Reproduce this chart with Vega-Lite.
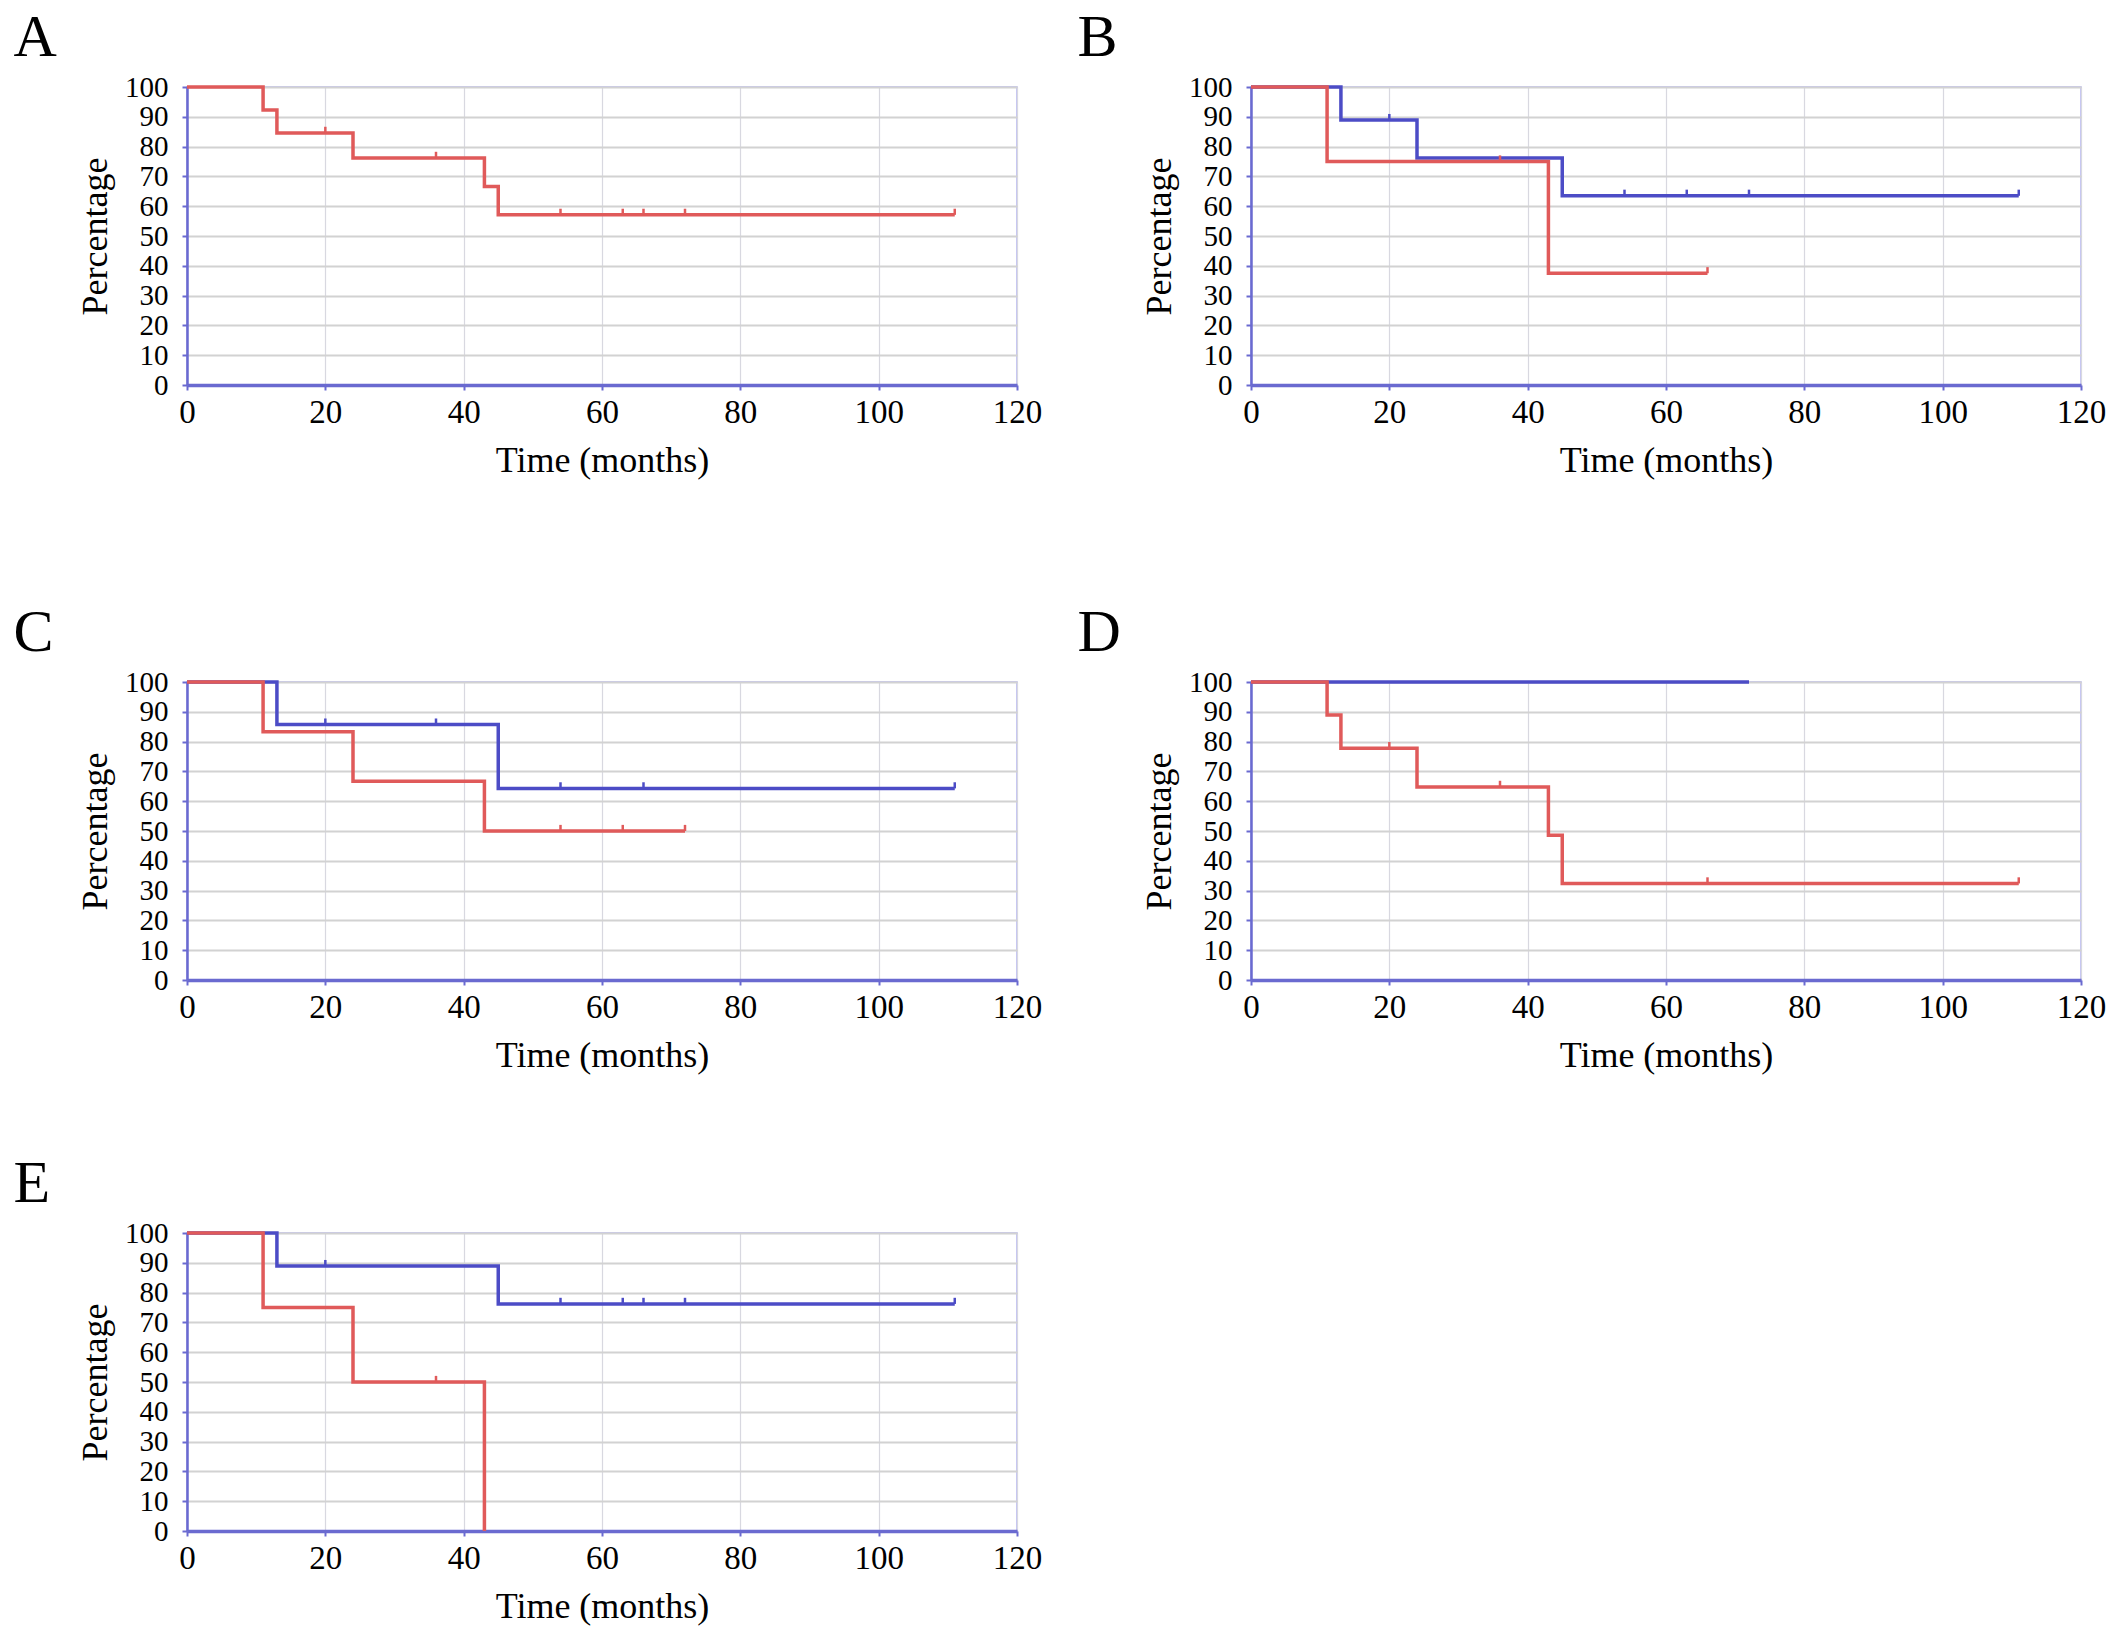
{
  "$schema": "https://vega.github.io/schema/vega-lite/v6.json",
  "background": "white",
  "padding": {"left": 12, "top": 7, "right": 5, "bottom": 5},
  "datasets": {
    "curves": [
      {"panel": "A", "group": "Group 2", "t": 0, "s": 100},
      {"panel": "A", "group": "Group 2", "t": 11, "s": 92.3},
      {"panel": "A", "group": "Group 2", "t": 13, "s": 84.6},
      {"panel": "A", "group": "Group 2", "t": 24, "s": 76.2},
      {"panel": "A", "group": "Group 2", "t": 43, "s": 66.6},
      {"panel": "A", "group": "Group 2", "t": 45, "s": 57.1},
      {"panel": "A", "group": "Group 2", "t": 111, "s": 57.1},
      {"panel": "B", "group": "Group 1", "t": 0, "s": 100},
      {"panel": "B", "group": "Group 1", "t": 13, "s": 88.9},
      {"panel": "B", "group": "Group 1", "t": 24, "s": 76.2},
      {"panel": "B", "group": "Group 1", "t": 45, "s": 63.5},
      {"panel": "B", "group": "Group 1", "t": 111, "s": 63.5},
      {"panel": "B", "group": "Group 2", "t": 0, "s": 100},
      {"panel": "B", "group": "Group 2", "t": 11, "s": 75},
      {"panel": "B", "group": "Group 2", "t": 43, "s": 37.5},
      {"panel": "B", "group": "Group 2", "t": 66, "s": 37.5},
      {"panel": "C", "group": "Group 1", "t": 0, "s": 100},
      {"panel": "C", "group": "Group 1", "t": 13, "s": 85.7},
      {"panel": "C", "group": "Group 1", "t": 45, "s": 64.3},
      {"panel": "C", "group": "Group 1", "t": 111, "s": 64.3},
      {"panel": "C", "group": "Group 2", "t": 0, "s": 100},
      {"panel": "C", "group": "Group 2", "t": 11, "s": 83.3},
      {"panel": "C", "group": "Group 2", "t": 24, "s": 66.7},
      {"panel": "C", "group": "Group 2", "t": 43, "s": 50},
      {"panel": "C", "group": "Group 2", "t": 72, "s": 50},
      {"panel": "D", "group": "Group 1", "t": 0, "s": 100},
      {"panel": "D", "group": "Group 1", "t": 72, "s": 100},
      {"panel": "D", "group": "Group 2", "t": 0, "s": 100},
      {"panel": "D", "group": "Group 2", "t": 11, "s": 88.9},
      {"panel": "D", "group": "Group 2", "t": 13, "s": 77.8},
      {"panel": "D", "group": "Group 2", "t": 24, "s": 64.8},
      {"panel": "D", "group": "Group 2", "t": 43, "s": 48.6},
      {"panel": "D", "group": "Group 2", "t": 45, "s": 32.4},
      {"panel": "D", "group": "Group 2", "t": 111, "s": 32.4},
      {"panel": "E", "group": "Group 1", "t": 0, "s": 100},
      {"panel": "E", "group": "Group 1", "t": 13, "s": 88.9},
      {"panel": "E", "group": "Group 1", "t": 45, "s": 76.2},
      {"panel": "E", "group": "Group 1", "t": 111, "s": 76.2},
      {"panel": "E", "group": "Group 2", "t": 0, "s": 100},
      {"panel": "E", "group": "Group 2", "t": 11, "s": 75},
      {"panel": "E", "group": "Group 2", "t": 24, "s": 50},
      {"panel": "E", "group": "Group 2", "t": 43, "s": 0}
    ],
    "censors": [
      {"panel": "A", "group": "Group 2", "t": 20, "s": 84.6},
      {"panel": "A", "group": "Group 2", "t": 36, "s": 76.2},
      {"panel": "A", "group": "Group 2", "t": 54, "s": 57.1},
      {"panel": "A", "group": "Group 2", "t": 63, "s": 57.1},
      {"panel": "A", "group": "Group 2", "t": 66, "s": 57.1},
      {"panel": "A", "group": "Group 2", "t": 72, "s": 57.1},
      {"panel": "A", "group": "Group 2", "t": 111, "s": 57.1},
      {"panel": "B", "group": "Group 1", "t": 20, "s": 88.9},
      {"panel": "B", "group": "Group 1", "t": 54, "s": 63.5},
      {"panel": "B", "group": "Group 1", "t": 63, "s": 63.5},
      {"panel": "B", "group": "Group 1", "t": 72, "s": 63.5},
      {"panel": "B", "group": "Group 1", "t": 111, "s": 63.5},
      {"panel": "B", "group": "Group 2", "t": 36, "s": 75},
      {"panel": "B", "group": "Group 2", "t": 66, "s": 37.5},
      {"panel": "C", "group": "Group 1", "t": 20, "s": 85.7},
      {"panel": "C", "group": "Group 1", "t": 36, "s": 85.7},
      {"panel": "C", "group": "Group 1", "t": 54, "s": 64.3},
      {"panel": "C", "group": "Group 1", "t": 66, "s": 64.3},
      {"panel": "C", "group": "Group 1", "t": 111, "s": 64.3},
      {"panel": "C", "group": "Group 2", "t": 54, "s": 50},
      {"panel": "C", "group": "Group 2", "t": 63, "s": 50},
      {"panel": "C", "group": "Group 2", "t": 72, "s": 50},
      {"panel": "D", "group": "Group 2", "t": 20, "s": 77.8},
      {"panel": "D", "group": "Group 2", "t": 36, "s": 64.8},
      {"panel": "D", "group": "Group 2", "t": 66, "s": 32.4},
      {"panel": "D", "group": "Group 2", "t": 111, "s": 32.4},
      {"panel": "E", "group": "Group 1", "t": 20, "s": 88.9},
      {"panel": "E", "group": "Group 1", "t": 54, "s": 76.2},
      {"panel": "E", "group": "Group 1", "t": 63, "s": 76.2},
      {"panel": "E", "group": "Group 1", "t": 66, "s": 76.2},
      {"panel": "E", "group": "Group 1", "t": 72, "s": 76.2},
      {"panel": "E", "group": "Group 1", "t": 111, "s": 76.2},
      {"panel": "E", "group": "Group 2", "t": 36, "s": 50}
    ]
  },
  "vconcat": [
    {
      "hconcat": [
        {
          "width": 830, "height": 298,
          "title": {"text": "A"},
          "encoding": {
            "x": {"field": "t", "type": "quantitative", "scale": {"domain": [0, 120], "nice": false}, "axis": {"values": [0, 20, 40, 60, 80, 100, 120]}, "title": "Time (months)"},
            "y": {"field": "s", "type": "quantitative", "scale": {"domain": [0, 100], "nice": false}, "axis": {"values": [0, 10, 20, 30, 40, 50, 60, 70, 80, 90, 100]}, "title": "Percentage"},
            "color": {"field": "group", "type": "nominal", "scale": {"domain": ["Group 1", "Group 2"], "range": ["#4c4cc6", "#e05a5a"]}, "legend": null}
          },
          "layer": [
            {"data": {"name": "curves"}, "transform": [{"filter": "datum.panel === 'A'"}],
             "mark": {"type": "line", "interpolate": "step-after", "strokeWidth": 3.5}},
            {"data": {"name": "censors"}, "transform": [{"filter": "datum.panel === 'A'"}],
             "mark": {"type": "point", "shape": "M0,0L0,-1", "size": 150, "filled": false, "strokeWidth": 2.5, "opacity": 1}}
          ]
        },
        {
          "width": 830, "height": 298,
          "title": {"text": "B"},
          "encoding": {
            "x": {"field": "t", "type": "quantitative", "scale": {"domain": [0, 120], "nice": false}, "axis": {"values": [0, 20, 40, 60, 80, 100, 120]}, "title": "Time (months)"},
            "y": {"field": "s", "type": "quantitative", "scale": {"domain": [0, 100], "nice": false}, "axis": {"values": [0, 10, 20, 30, 40, 50, 60, 70, 80, 90, 100]}, "title": "Percentage"},
            "color": {"field": "group", "type": "nominal", "scale": {"domain": ["Group 1", "Group 2"], "range": ["#4c4cc6", "#e05a5a"]}, "legend": null}
          },
          "layer": [
            {"data": {"name": "curves"}, "transform": [{"filter": "datum.panel === 'B'"}],
             "mark": {"type": "line", "interpolate": "step-after", "strokeWidth": 3.5}},
            {"data": {"name": "censors"}, "transform": [{"filter": "datum.panel === 'B'"}],
             "mark": {"type": "point", "shape": "M0,0L0,-1", "size": 150, "filled": false, "strokeWidth": 2.5, "opacity": 1}}
          ]
        }
      ]
    },
    {
      "spacing": 79,
      "vconcat": [
        {
          "hconcat": [
            {
              "width": 830, "height": 298,
              "title": {"text": "C"},
              "encoding": {
                "x": {"field": "t", "type": "quantitative", "scale": {"domain": [0, 120], "nice": false}, "axis": {"values": [0, 20, 40, 60, 80, 100, 120]}, "title": "Time (months)"},
                "y": {"field": "s", "type": "quantitative", "scale": {"domain": [0, 100], "nice": false}, "axis": {"values": [0, 10, 20, 30, 40, 50, 60, 70, 80, 90, 100]}, "title": "Percentage"},
                "color": {"field": "group", "type": "nominal", "scale": {"domain": ["Group 1", "Group 2"], "range": ["#4c4cc6", "#e05a5a"]}, "legend": null}
              },
              "layer": [
                {"data": {"name": "curves"}, "transform": [{"filter": "datum.panel === 'C'"}],
                 "mark": {"type": "line", "interpolate": "step-after", "strokeWidth": 3.5}},
                {"data": {"name": "censors"}, "transform": [{"filter": "datum.panel === 'C'"}],
                 "mark": {"type": "point", "shape": "M0,0L0,-1", "size": 150, "filled": false, "strokeWidth": 2.5, "opacity": 1}}
              ]
            },
            {
              "width": 830, "height": 298,
              "title": {"text": "D"},
              "encoding": {
                "x": {"field": "t", "type": "quantitative", "scale": {"domain": [0, 120], "nice": false}, "axis": {"values": [0, 20, 40, 60, 80, 100, 120]}, "title": "Time (months)"},
                "y": {"field": "s", "type": "quantitative", "scale": {"domain": [0, 100], "nice": false}, "axis": {"values": [0, 10, 20, 30, 40, 50, 60, 70, 80, 90, 100]}, "title": "Percentage"},
                "color": {"field": "group", "type": "nominal", "scale": {"domain": ["Group 1", "Group 2"], "range": ["#4c4cc6", "#e05a5a"]}, "legend": null}
              },
              "layer": [
                {"data": {"name": "curves"}, "transform": [{"filter": "datum.panel === 'D'"}],
                 "mark": {"type": "line", "interpolate": "step-after", "strokeWidth": 3.5}},
                {"data": {"name": "censors"}, "transform": [{"filter": "datum.panel === 'D'"}],
                 "mark": {"type": "point", "shape": "M0,0L0,-1", "size": 150, "filled": false, "strokeWidth": 2.5, "opacity": 1}}
              ]
            }
          ]
        },
        {
          "width": 830, "height": 298,
          "title": {"text": "E"},
          "encoding": {
            "x": {"field": "t", "type": "quantitative", "scale": {"domain": [0, 120], "nice": false}, "axis": {"values": [0, 20, 40, 60, 80, 100, 120]}, "title": "Time (months)"},
            "y": {"field": "s", "type": "quantitative", "scale": {"domain": [0, 100], "nice": false}, "axis": {"values": [0, 10, 20, 30, 40, 50, 60, 70, 80, 90, 100]}, "title": "Percentage"},
            "color": {"field": "group", "type": "nominal", "scale": {"domain": ["Group 1", "Group 2"], "range": ["#4c4cc6", "#e05a5a"]}, "legend": null}
          },
          "layer": [
            {"data": {"name": "curves"}, "transform": [{"filter": "datum.panel === 'E'"}],
             "mark": {"type": "line", "interpolate": "step-after", "strokeWidth": 3.5}},
            {"data": {"name": "censors"}, "transform": [{"filter": "datum.panel === 'E'"}],
             "mark": {"type": "point", "shape": "M0,0L0,-1", "size": 150, "filled": false, "strokeWidth": 2.5, "opacity": 1}}
          ]
        }
      ]
    }
  ],
  "spacing": 123,
  "config": {
    "font": "Liberation Serif",
    "view": {"stroke": "#b4b4f0", "strokeWidth": 1.5},
    "concat": {"spacing": 33},
    "title": {"fontSize": 60, "fontWeight": "normal", "anchor": "start", "frame": "bounds", "font": "Liberation Serif", "color": "black", "baseline": "alphabetic", "offset": 4, "dx": -64},
    "axis": {
      "labelFont": "Liberation Serif", "titleFont": "Liberation Serif",
      "labelFontSize": 33, "titleFontSize": 36, "titleFontWeight": "normal",
      "labelColor": "black", "titleColor": "black",
      "labelOverlap": false, "labelFlush": false,
      "tickColor": "#6a6ad0", "tickSize": 5, "tickWidth": 2,
      "domainColor": "#6a6ad0", "domainWidth": 2.5
    },
    "axisX": {"gridColor": "#d8d8e0", "gridWidth": 1.2, "labelPadding": 6, "titlePadding": 14, "domainWidth": 3.5},
    "axisY": {"gridColor": "#d2d2d2", "gridWidth": 2.2, "labelPadding": 14, "titlePadding": 10, "labelFontSize": 29}
  }
}
